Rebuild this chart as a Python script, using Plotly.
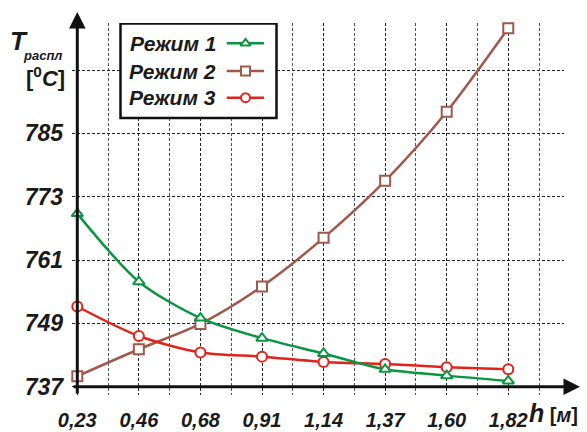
import plotly.graph_objects as go

# ---------------- data ----------------
h_labels = ["0,23", "0,46", "0,68", "0,91", "1,14", "1,37", "1,60", "1,82"]
rezhim1 = [769.8, 756.9, 750.0, 746.2, 743.3, 740.3, 739.1, 738.1]
rezhim2 = [739.0, 744.1, 748.9, 756.0, 765.2, 776.0, 789.1, 804.9]
rezhim3 = [752.2, 746.6, 743.5, 742.7, 741.7, 741.3, 740.7, 740.3]
y_ticks = [737, 749, 761, 773, 785, 797]
y_tick_text = ["737", "749", "761", "773", "785", ""]
series_names = ["Режим 1", "Режим 2", "Режим 3"]

# ---------------- style ----------------
GREEN = "#0a9640"
BROWN = "#a0584a"
RED = "#e2231a"
FONT = "Liberation Sans"

W, H = 587, 432
L, R, T, B = 72, 564, 23, 395  # plot area pixels
pw, ph = R - L, B - T

x_range = [-0.086, 7.905]
y_range = [735.43, 805.91]

idx = list(range(len(h_labels)))


def px_x(px):  # pixel -> paper (plot area fraction)
    return (px - L) / pw


def px_y(py):
    return (B - py) / ph


def xd(px):  # pixel -> data
    return x_range[0] + px_x(px) * (x_range[1] - x_range[0])


def yd(py):
    return y_range[0] + px_y(py) * (y_range[1] - y_range[0])


fig = go.Figure()


def add_series(vals, color, symbol, name):
    fig.add_trace(go.Scatter(
        x=idx, y=vals, mode="lines+markers", name=name,
        line=dict(color=color, width=2.5, shape="spline", smoothing=0.8),
        marker=dict(symbol=symbol, size=10, color="white",
                    line=dict(color=color, width=2)),
        cliponaxis=False, showlegend=False))


add_series(rezhim2, BROWN, "square", series_names[1])
add_series(rezhim3, RED, "circle", series_names[2])
add_series(rezhim1, GREEN, "triangle-up", series_names[0])

# ---- custom legend (symbol on the right, as in the reference) ----
leg_rows = [43.3, 71.0, 97.7]
leg_colors = [GREEN, BROWN, RED]
leg_symbols = ["triangle-up", "square", "circle"]
for name, yy, col, sym in zip(series_names, leg_rows, leg_colors, leg_symbols):
    fig.add_trace(go.Scatter(
        x=[226.7, 245.5, 264.0], y=[yy, yy, yy], xaxis="x2", yaxis="y2",
        mode="lines+markers",
        line=dict(color=col, width=2.5),
        marker=dict(symbol=sym, size=9, color="white",
                    line=dict(color=col, width=2), opacity=[0, 1, 0]),
        showlegend=False, hoverinfo="skip", cliponaxis=False))
    fig.add_annotation(x=px_x(218), y=px_y(yy), xref="paper", yref="paper",
                       text=f"<b><i>{name}</i></b>",
                       showarrow=False, xanchor="right", yanchor="middle",
                       font=dict(family=FONT, size=21, color="#1a1a1a"))

fig.add_shape(type="rect", xref="x", yref="y", x0=xd(120.5), x1=xd(276.5),
              y0=yd(23.5), y1=yd(118),
              line=dict(color="#111", width=2.5), fillcolor="white", layer="between")

fig.update_layout(
    width=W, height=H,
    margin=dict(l=L, r=W - R, t=T, b=H - B, autoexpand=False),
    paper_bgcolor="white", plot_bgcolor="white",
    showlegend=False,
    xaxis=dict(range=x_range, tickvals=idx, ticktext=h_labels, automargin=False,
               showgrid=True, gridcolor="#222", griddash="3px,2px", gridwidth=1,
               minor=dict(dtick=0.5, tick0=0, showgrid=True, gridcolor="#555",
                          griddash="3px,2px", gridwidth=1),
               zeroline=False, showline=False, ticks="",
               ticklabelstandoff=11,
               tickfont=dict(family=FONT, size=20, color="#1a1a1a", weight="bold", style="italic")),
    yaxis=dict(range=y_range, tickvals=y_ticks, ticktext=y_tick_text, automargin=False,
               showgrid=True, gridcolor="#222", griddash="3px,2px", gridwidth=1,
               zeroline=False, showline=False, ticks="",
               ticklabelstandoff=8,
               tickfont=dict(family=FONT, size=23, color="#1a1a1a", weight="bold", style="italic")),
    xaxis2=dict(range=[L, R], overlaying="x", anchor="y2", visible=False, showgrid=False,
                automargin=False),
    yaxis2=dict(range=[B, T], overlaying="y", anchor="x2", visible=False, showgrid=False,
                automargin=False),
)


def xpaper(v):
    return (v - x_range[0]) / (x_range[1] - x_range[0])


def ypaper(v):
    return (v - y_range[0]) / (y_range[1] - y_range[0])


# x axis at y = 737, from left plot edge to arrow tip at pixel 580
fig.add_annotation(x=px_x(580), y=ypaper(y_ticks[0]), xref="paper", yref="paper",
                   ax=-(580 - L), ay=0, axref="pixel", ayref="pixel",
                   showarrow=True, arrowhead=2, arrowsize=1.1, arrowwidth=3,
                   arrowcolor="#111", text="")
# y axis at first category, from bottom plot edge to top arrow tip
fig.add_annotation(x=xpaper(0), y=px_y(12), xref="paper", yref="paper",
                   ax=0, ay=(B - 12), axref="pixel", ayref="pixel",
                   showarrow=True, arrowhead=2, arrowsize=1.1, arrowwidth=3,
                   arrowcolor="#111", text="")

# ---- axis titles ----
fig.add_annotation(x=px_x(8), y=px_y(41), xref="paper", yref="paper",
                   text="<b><i>T</i></b>", showarrow=False, xanchor="left", yanchor="middle",
                   font=dict(family=FONT, size=26, color="#1a1a1a"))
fig.add_annotation(x=px_x(21), y=px_y(55), xref="paper", yref="paper",
                   text="<b><i>распл</i></b>", showarrow=False, xanchor="left", yanchor="middle",
                   font=dict(family=FONT, size=13, color="#1a1a1a"))
fig.add_annotation(x=px_x(24), y=px_y(77), xref="paper", yref="paper",
                   text="<b>[<sup>0</sup><i>C</i>]</b>", showarrow=False, xanchor="left",
                   yanchor="middle",
                   font=dict(family=FONT, size=22, color="#1a1a1a"))
fig.add_annotation(x=px_x(527), y=px_y(413), xref="paper", yref="paper",
                   text="<b><i><span style='font-size:25px'>h</span></i> [<i>м</i>]</b>",
                   showarrow=False, xanchor="left", yanchor="middle",
                   font=dict(family=FONT, size=20, color="#1a1a1a"))

fig.write_html("out.html")
